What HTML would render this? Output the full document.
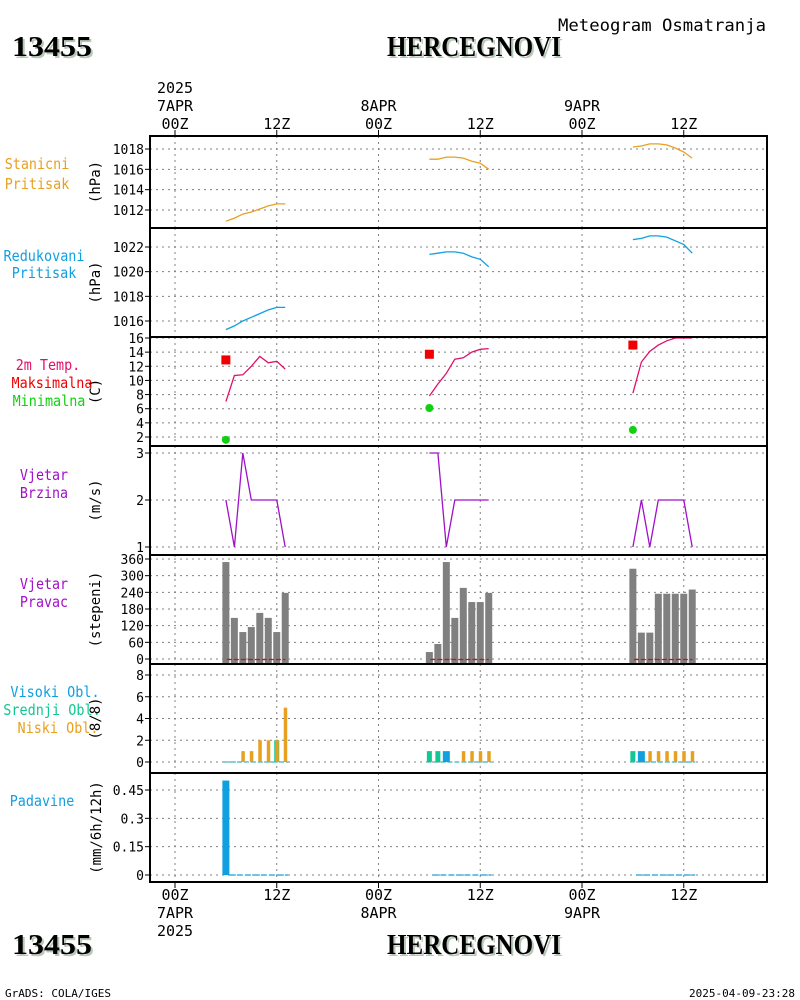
<!DOCTYPE html>
<html><head><meta charset="utf-8"><style>
html,body{margin:0;padding:0;background:#fff;}
svg{display:block;font-family:"Liberation Sans",sans-serif;}
</style></head><body>
<svg id="c" width="800" height="1000" viewBox="0 0 800 1000" xmlns="http://www.w3.org/2000/svg"></svg>
<script>
// ---------- data ----------
const day1Hours = [6,7,8,9,10,11,12,13];
const day2Hours = [30,31,32,33,34,35,36,37];
const day3Hours = [54,55,56,57,58,59,60,61];
const stationPressure1 = [1010.9,1011.2,1011.6,1011.8,1012.1,1012.4,1012.6,1012.6];
const stationPressure2 = [1017.0,1017.0,1017.2,1017.2,1017.1,1016.8,1016.6,1016.0];
const stationPressure3 = [1018.2,1018.3,1018.5,1018.5,1018.4,1018.1,1017.7,1017.1];
const seaPressure1 = [1015.3,1015.6,1016.0,1016.3,1016.6,1016.9,1017.1,1017.1];
const seaPressure2 = [1021.4,1021.5,1021.6,1021.6,1021.5,1021.2,1021.0,1020.4];
const seaPressure3 = [1022.6,1022.7,1022.9,1022.9,1022.8,1022.5,1022.2,1021.5];
const temp1 = [7.0,10.7,10.8,12.0,13.4,12.5,12.7,11.6];
const temp2 = [7.8,9.5,11.0,13.0,13.2,14.0,14.4,14.5];
const temp3 = [8.2,12.6,14.1,15.0,15.6,16.0,16.0,16.0];
const tmaxHours = [6,30,54];
const tmaxValues = [12.9,13.7,15.0];
const tminValues = [1.6,6.1,3.0];
const windSpeed1 = [2,1,3,2,2,2,2,1];
const windSpeed2 = [3,3,1,2,2,2,2,2];
const windSpeed3 = [1,2,1,2,2,2,2,1];
const windDir1 = [349,148,97,115,166,148,97,238];
const windDir2 = [25,54,349,148,256,205,205,238];
const windDir3 = [325,95,95,235,235,235,235,250];
const lowCloud1 = [0,0,1,1,2,2,2,5];
const lowCloud2 = [0,0,0,0,1,1,1,1];
const lowCloud3 = [0,0,1,1,1,1,1,1];
const midCloud1 = [0,0,0,0,0,0,2,0];
const midCloud2 = [1,1,0,0,0,0,0,0];
const midCloud3 = [1,0,0,0,0,0,0,0];
const highCloud1 = [0,0,0,0,0,0,0,0];
const highCloud2 = [0,0,1,0,0,0,0,0];
const highCloud3 = [0,1,0,0,0,0,0,0];
const precip1 = [0.50,0,0,0,0,0,0,0];
const precip2 = [0,0,0,0,0,0,0,0];
const precip3 = [0,0,0,0,0,0,0,0];
const timeTickHours = [0,12,24,36,48,60];
const timeTickLabels = ["00Z","12Z","00Z","12Z","00Z","12Z"];
const stationTicks = [1012,1014,1016,1018];
const seaTicks = [1016,1018,1020,1022];
const tempTicks = [2,4,6,8,10,12,14,16];
const speedTicks = [1,2,3];
const dirTicks = [0,60,120,180,240,300,360];
const cloudTicks = [0,2,4,6,8];
const precipTicks = [0,0.15,0.3,0.45];
const precipTickLabels = ["0","0.15","0.3","0.45"];

// ---------- helpers ----------
const NS="http://www.w3.org/2000/svg";
const svg=document.getElementById('c');
function el(tag,attrs,parent,text){const e=document.createElementNS(NS,tag);for(const k in attrs)e.setAttribute(k,attrs[k]);if(text!==undefined)e.textContent=text;(parent||svg).appendChild(e);return e;}
const X0=150,X1=767;
function xs(h){return 175+(h)*(101.75/12);}
function lin(d0,d1,r0,r1){return v=>r0+(v-d0)*(r1-r0)/(d1-d0);}
const panels=[
 {top:136,bot:228,y:lin(1012,1018,210,149),ticks:stationTicks,name:'station-pressure'},
 {top:228,bot:337,y:lin(1016,1022,321,247),ticks:seaTicks,name:'sea-pressure'},
 {top:337,bot:446,y:lin(2,16,437,338),ticks:tempTicks,name:'temperature'},
 {top:446,bot:555,y:lin(1,3,547,453),ticks:speedTicks,name:'wind-speed'},
 {top:555,bot:664,y:lin(0,360,659,559),ticks:dirTicks,name:'wind-direction'},
 {top:664,bot:773,y:lin(0,8,762,675),ticks:cloudTicks,name:'cloud-cover'},
 {top:773,bot:882,y:lin(0,0.45,875,790),ticks:precipTicks,labels:precipTickLabels,name:'precipitation'}
];
const mono='"DejaVu Sans Mono","Liberation Mono",monospace';

// titles
function title(x,y,t,w,name){
 const g=el('g',{});
 
 
 el('text',{x:x+2,y:y+2,'font-family':'"Liberation Serif",serif','font-weight':'bold','font-size':28,fill:'#b8c8b8',textLength:w,lengthAdjust:'spacingAndGlyphs'},g,t);
 el('text',{x:x,y:y,'font-family':'"Liberation Serif",serif','font-weight':'bold','font-size':28,fill:'#000',textLength:w,lengthAdjust:'spacingAndGlyphs'},g,t);
}
title(12,56,'13455',80,'station-id-top');
title(387,56,'HERCEGNOVI',174,'station-name-top');
title(12,954,'13455',80,'station-id-bottom');
title(387,954,'HERCEGNOVI',174,'station-name-bottom');
const st=el('text',{x:558,y:31,'font-size':17,'font-family':mono,fill:'#000',textLength:208,lengthAdjust:'spacingAndGlyphs'},svg,'Meteogram Osmatranja');

const ft=el('text',{x:5,y:997,'font-size':11,'font-family':mono,fill:'#000'},svg,'GrADS: COLA/IGES');

const fd=el('text',{x:795,y:997,'text-anchor':'end','font-size':11,'font-family':mono,fill:'#000'},svg,'2025-04-09-23:28');


// time axis labels
const ta=el('g',{'font-size':15,'font-family':mono,'text-anchor':'middle',fill:'#000'});

timeTickHours.forEach((h,i)=>{
 el('text',{x:xs(h),y:129},ta,timeTickLabels[i]);
 el('text',{x:xs(h),y:900},ta,timeTickLabels[i]);
 el('line',{x1:xs(h),x2:xs(h),y1:130,y2:136,stroke:'#000'},ta);
 el('line',{x1:xs(h),x2:xs(h),y1:882,y2:888,stroke:'#000'},ta);
});
[['2025',0,93],['7APR',0,111],['8APR',24,111],['9APR',48,111]].forEach(a=>el('text',{x:xs(a[1]),y:a[2]},ta,a[0]));
[['7APR',0,918],['8APR',24,918],['9APR',48,918],['2025',0,936]].forEach(a=>el('text',{x:xs(a[1]),y:a[2]},ta,a[0]));

// left labels: [text,color,x,baseline]
const leftLabels=[
 [[['Stanicni','#e8a020',37,169],['Pritisak','#e8a020',37,189]],'(hPa)'],
 [[['Redukovani','#10a0e0',44,261],['Pritisak','#10a0e0',44,278]],'(hPa)'],
 [[['2m Temp.','#e0106a',48,370],['Maksimalna','#f00000',52,388],['Minimalna','#10d010',49,406]],'(C)'],
 [[['Vjetar','#a010c8',44,480],['Brzina','#a010c8',44,498]],'(m/s)'],
 [[['Vjetar','#a010c8',44,589],['Pravac','#a010c8',44,607]],'(stepeni)'],
 [[['Visoki Obl.','#10a0e0',55,697],['Srednji Obl.','#10c890',52,715],['Niski Obl.','#e8a020',58,733]],'(8/8)'],
 [[['Padavine','#10a0e0',42,806]],'(mm/6h/12h)']
];
leftLabels.forEach((L,i)=>{
 const g=el('g',{'font-size':15,'font-family':mono,'text-anchor':'middle'});
 
 L[0].forEach(t=>el('text',{x:t[2],y:t[3],fill:t[1],textLength:t[0].length*8.2-1,lengthAdjust:'spacingAndGlyphs'},g,t[0]));
 const cy=(panels[i].top+panels[i].bot)/2;
 el('text',{x:0,y:0,transform:`translate(${i==6?101:100},${cy}) rotate(-90)`,fill:'#000','font-size':14},g,L[1]);
});

// panels: grid, ticks
panels.forEach((p,pi)=>{
 const g=el('g',{});
 
 [0,12,24,36,48,60].forEach(h=>el('line',{x1:xs(h),x2:xs(h),y1:p.top,y2:p.bot,stroke:'#808080','stroke-dasharray':'2,4'},g));
 p.ticks.forEach((v,i)=>{
  const y=p.y(v);
  el('line',{x1:X0,x2:X1,y1:y,y2:y,stroke:'#808080','stroke-dasharray':'2,4'},g);
  el('line',{x1:X0-5,x2:X0,y1:y,y2:y,stroke:'#000'},g);
  el('text',{x:X0-6,y:y+5,'text-anchor':'end','font-size':13,'font-family':mono,fill:'#000'},g,p.labels?p.labels[i]:String(v));
 });
});

function series(hours,vals,p,color,name){
 const pts=hours.map((h,i)=>xs(h).toFixed(1)+','+p.y(vals[i]).toFixed(1)).join(' ');
 const e=el('polyline',{points:pts,fill:'none',stroke:color,'stroke-width':1.3});
 
}
const days=[day1Hours,day2Hours,day3Hours];
[stationPressure1,stationPressure2,stationPressure3].forEach((v,i)=>series(days[i],v,panels[0],'#e8a020','station-pressure-line-day'+(i+1)));
[seaPressure1,seaPressure2,seaPressure3].forEach((v,i)=>series(days[i],v,panels[1],'#10a0e0','sea-pressure-line-day'+(i+1)));
[temp1,temp2,temp3].forEach((v,i)=>series(days[i],v,panels[2],'#e0106a','temperature-line-day'+(i+1)));
tmaxHours.forEach((h,i)=>{
 const r=el('rect',{x:xs(h)-4.5,y:panels[2].y(tmaxValues[i])-4.5,width:9,height:9,fill:'#f00000'});
 
 const c=el('circle',{cx:xs(h),cy:panels[2].y(tminValues[i]),r:4,fill:'#10d010'});
 
});
[windSpeed1,windSpeed2,windSpeed3].forEach((v,i)=>series(days[i],v,panels[3],'#a010c8','wind-speed-line-day'+(i+1)));
[windDir1,windDir2,windDir3].forEach((v,i)=>{
 days[i].forEach((h,j)=>{
  const y=panels[4].y(v[j]);
  const r=el('rect',{x:xs(h)-3.5,y:y,width:7,height:panels[4].y(0)-y+4,fill:'#808080'});
  
 });
 const l=el('line',{x1:xs(days[i][0])+1,x2:xs(days[i][7]),y1:panels[4].y(0)+0.5,y2:panels[4].y(0)+0.5,stroke:'#f00000','stroke-dasharray':'5,2','stroke-width':1.2});
 
});
const lows=[lowCloud1,lowCloud2,lowCloud3],mids=[midCloud1,midCloud2,midCloud3],highs=[highCloud1,highCloud2,highCloud3];
days.forEach((hrs,i)=>{
 const p=panels[5],y0=p.y(0);
 const l=el('line',{x1:xs(hrs[0])-3,x2:xs(hrs[7])+3,y1:y0,y2:y0,stroke:'#10a0a0','stroke-dasharray':'5,2','stroke-width':1});
 
 hrs.forEach((h,j)=>{
  [[highs[i][j],'#10a0e0',-3.5,7,'high-cloud-bar'],[mids[i][j],'#10c890',-2.5,5,'mid-cloud-bar'],[lows[i][j],'#e8a020',-1.5,3.5,'low-cloud-bar']].forEach(b=>{
   if(b[0]<=0)return;
   const y=p.y(b[0]);
   const r=el('rect',{x:xs(h)+b[2],y:y,width:b[3],height:y0-y,fill:b[1]});
   
  });
 });
});
[precip1,precip2,precip3].forEach((v,i)=>{
 const p=panels[6],y0=p.y(0);
 const l=el('line',{x1:xs(days[i][0])+3,x2:xs(days[i][7])+3,y1:y0,y2:y0,stroke:'#10a0e0','stroke-dasharray':'6,2','stroke-width':1.2});
 
 days[i].forEach((h,j)=>{
  if(v[j]<=0)return;
  const y=p.y(v[j]);
  const r=el('rect',{x:xs(h)-3.5,y:y,width:7,height:y0-y,fill:'#10a0e0'});
  
 });
});
// frames on top
panels.forEach(p=>{
 const r=el('rect',{x:X0,y:p.top,width:X1-X0,height:p.bot-p.top,fill:'none',stroke:'#000','stroke-width':2});
 
});
</script>
</body></html>
